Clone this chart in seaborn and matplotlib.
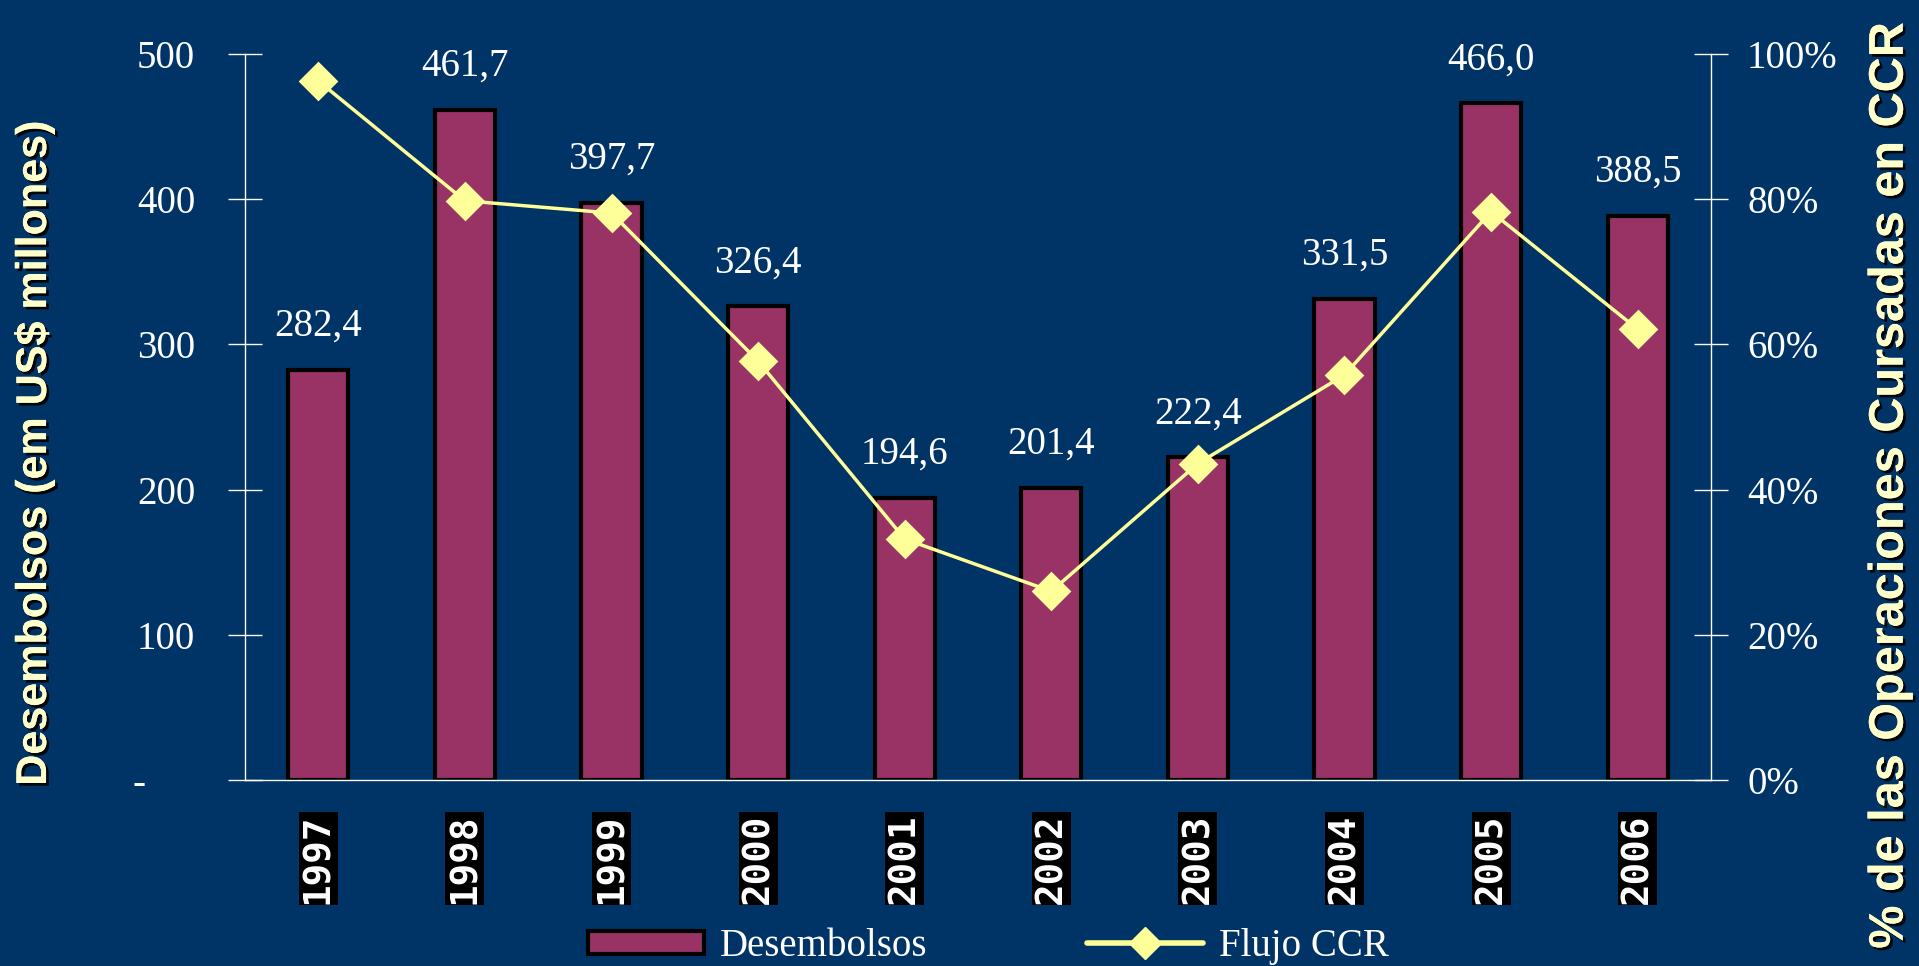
import numpy as np
import seaborn as sns
import matplotlib.pyplot as plt
from matplotlib.patches import Patch
from matplotlib.lines import Line2D
import matplotlib.patheffects as pe

years = ['1997', '1998', '1999', '2000', '2001', '2002', '2003', '2004', '2005', '2006']
desembolsos = [282.4, 461.7, 397.7, 326.4, 194.6, 201.4, 222.4, 331.5, 466.0, 388.5]
flujo_ccr = [0.963, 0.798, 0.781, 0.577, 0.332, 0.260, 0.436, 0.558, 0.783, 0.621]
left_ticks = [0, 100, 200, 300, 400, 500]
left_labels = ['-     ', '100', '200', '300', '400', '500']
right_ticks = [0, 0.2, 0.4, 0.6, 0.8, 1.0]
right_labels = ['0%', '20%', '40%', '60%', '80%', '100%']

bg = '#003366'
bar_color = '#993366'
line_color = '#FFFF99'
label_color = '#FFFFCC'

sns.set_theme(style='white')
plt.rcParams['font.family'] = ['Liberation Serif', 'DejaVu Serif']

fig = plt.figure(figsize=(19.19, 9.66), dpi=100)
fig.patch.set_facecolor(bg)
ax = fig.add_axes([0.1277, 0.1925, 0.7639, 0.7515])
ax.set_facecolor(bg)

sns.barplot(x=years, y=desembolsos, ax=ax, color=bar_color, saturation=1,
            edgecolor='black', linewidth=3, width=0.41)
ax.set_ylim(0, 500)

ax.bar_label(ax.containers[0], labels=[f'{v:.1f}'.replace('.', ',') for v in desembolsos],
             padding=18, color='white', fontsize=28)

ax2 = ax.twinx()
sns.pointplot(x=years, y=flujo_ccr, ax=ax2, color=line_color, markers='D',
              markersize=18, linewidth=2.5)
ax2.set_ylim(0, 1)

# axes styling
ax.set_xlim(-0.5, 9.5)
ax.set_xticks(np.arange(-0.5, 10, 1))
ax.set_xticklabels([])
ax.set_xticks(np.arange(10), minor=True)
ax.set_xticklabels(years, minor=True, rotation=90, color='white', fontsize=27,
                   family='DejaVu Sans Mono', fontweight='bold')
for t in ax.get_xticklabels(minor=True):
    t.set_bbox(dict(facecolor='black', edgecolor='none', pad=1))
ax.tick_params(axis='x', which='major', direction='inout', length=24, width=1, color='white')
ax.tick_params(axis='x', which='minor', length=0, pad=24)

ax.set_yticks(left_ticks)
ax.set_yticklabels(left_labels)
ax.tick_params(axis='y', direction='inout', length=24, width=1, colors='white',
               labelsize=28, pad=24)
ax2.set_yticks(right_ticks)
ax2.set_yticklabels(right_labels)
ax2.tick_params(axis='y', direction='inout', length=24, width=1, colors='white',
                labelsize=28, pad=14)
ax.set_xlabel('')
ax.set_ylabel('')
ax2.set_ylabel('')

for s in ['top', 'right']:
    ax.spines[s].set_visible(False)
for s in ['top', 'left', 'bottom']:
    ax2.spines[s].set_visible(False)
for s in ['left', 'bottom']:
    ax.spines[s].set_color('white')
    ax.spines[s].set_linewidth(1)
ax2.spines['right'].set_color('white')
ax2.spines['right'].set_linewidth(1)

shadow = [pe.withSimplePatchShadow(offset=(2, -2), shadow_rgbFace='black', alpha=0.9), pe.Normal()]
fig.text(0.018, 0.53, 'Desembolsos (em US$ millones)', rotation=90, ha='center', va='center',
         fontsize=31, fontweight='bold', family='Liberation Sans', color=label_color,
         path_effects=shadow)
fig.text(0.985, 0.497, '% de las Operaciones Cursadas en CCR', rotation=90, ha='center',
         va='center', fontsize=35, fontweight='bold', family='Liberation Sans',
         color=label_color, path_effects=shadow)

handles = [Patch(facecolor=bar_color, edgecolor='black', linewidth=3),
           Line2D([], [], color=line_color, marker='D', markersize=16, linewidth=4)]
fig.legend(handles, ['Desembolsos', 'Flujo CCR'], loc='center', bbox_to_anchor=(0.515, 0.02),
           ncol=2, frameon=False, fontsize=28, labelcolor='white', handlelength=3.0,
           handleheight=0.55, handletextpad=0.4, columnspacing=4.1)

fig.savefig('out.png', dpi=100, facecolor=bg)
